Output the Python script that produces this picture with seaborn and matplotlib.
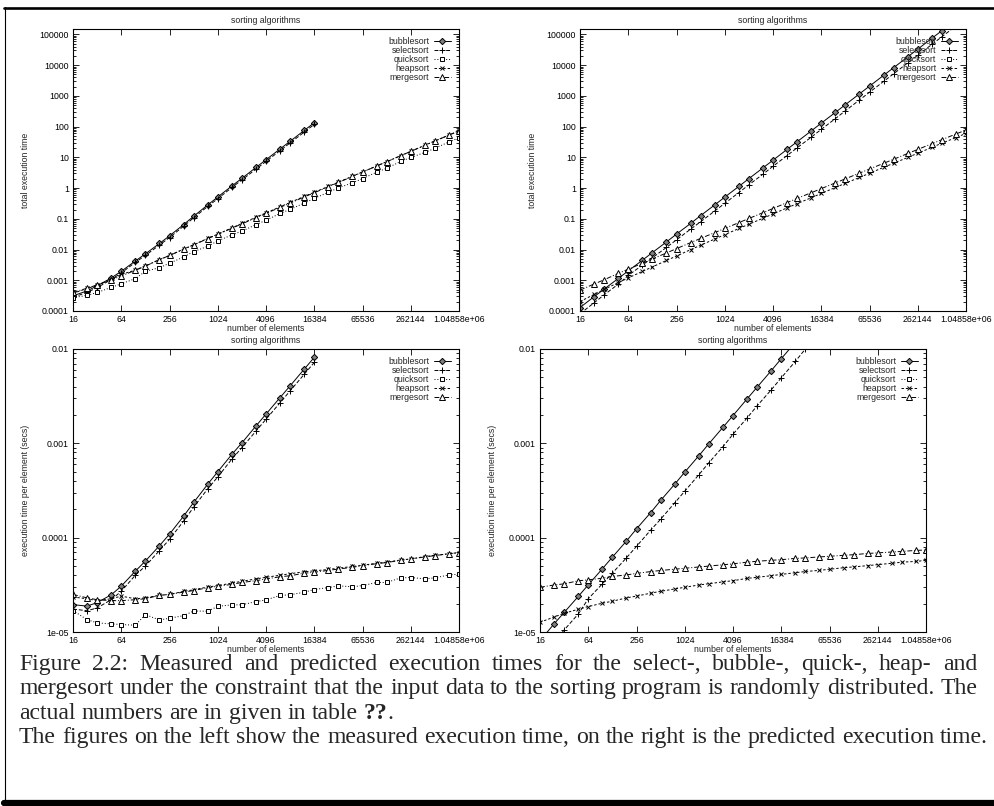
import matplotlib
matplotlib.use("Agg")
import matplotlib.pyplot as plt
import seaborn as sns
from matplotlib.lines import Line2D
from matplotlib.ticker import LogLocator, NullLocator, NullFormatter

# Data
n_elements = [16, 24, 32, 48, 64, 96, 128, 192, 256, 384, 512, 768, 1024, 1536,
              2048, 3072, 4096, 6144, 8192, 12288, 16384, 24576, 32768, 49152,
              65536, 98304, 131072, 196608, 262144, 393216, 524288, 786432, 1048576]

algorithms = ["bubblesort", "selectsort", "quicksort", "heapsort", "mergesort"]

# measured execution time per element (secs)
meas_bubblesort = [1.95e-5, 1.88e-5, 2.05e-5, 2.48e-5, 3.06e-5, 4.42e-5, 5.65e-5, 8.22e-5,
                   1.09e-4, 1.69e-4, 2.36e-4, 3.69e-4, 5.0e-4, 7.64e-4, 1.01e-3, 1.53e-3,
                   2.04e-3, 3.06e-3, 4.07e-3, 6.12e-3, 8.15e-3]
meas_selectsort = [1.75e-5, 1.68e-5, 1.8e-5, 2.2e-5, 2.7e-5, 4.0e-5, 5.0e-5, 7.3e-5,
                   9.6e-5, 1.5e-4, 2.1e-4, 3.3e-4, 4.4e-4, 6.8e-4, 9.0e-4, 1.35e-3,
                   1.8e-3, 2.7e-3, 3.6e-3, 5.4e-3, 7.2e-3]
meas_quicksort = [1.69e-5, 1.35e-5, 1.25e-5, 1.22e-5, 1.2e-5, 1.18e-5, 1.53e-5, 1.34e-5,
                  1.40e-5, 1.49e-5, 1.67e-5, 1.66e-5, 1.87e-5, 1.94e-5, 1.94e-5, 2.1e-5,
                  2.19e-5, 2.44e-5, 2.48e-5, 2.64e-5, 2.82e-5, 2.96e-5, 3.08e-5, 3.02e-5,
                  3.1e-5, 3.35e-5, 3.35e-5, 3.75e-5, 3.78e-5, 3.66e-5, 3.75e-5, 4.03e-5, 4.1e-5]
meas_heapsort = [2.35e-5, 2.25e-5, 2.15e-5, 2.25e-5, 2.4e-5, 2.25e-5, 2.3e-5, 2.45e-5,
                 2.5e-5, 2.7e-5, 2.8e-5, 3.0e-5, 3.1e-5, 3.3e-5, 3.45e-5, 3.65e-5,
                 3.8e-5, 4.0e-5, 4.15e-5, 4.35e-5, 4.45e-5, 4.6e-5, 4.75e-5, 4.95e-5,
                 5.1e-5, 5.35e-5, 5.5e-5, 5.8e-5, 5.95e-5, 6.3e-5, 6.5e-5, 6.75e-5, 6.95e-5]
meas_mergesort = [2.5e-5, 2.3e-5, 2.2e-5, 2.15e-5, 2.15e-5, 2.2e-5, 2.25e-5, 2.45e-5,
                  2.5e-5, 2.65e-5, 2.75e-5, 2.95e-5, 3.05e-5, 3.2e-5, 3.35e-5, 3.5e-5,
                  3.65e-5, 3.85e-5, 3.95e-5, 4.2e-5, 4.3e-5, 4.5e-5, 4.65e-5, 4.85e-5,
                  5.05e-5, 5.3e-5, 5.45e-5, 5.75e-5, 5.95e-5, 6.25e-5, 6.45e-5, 6.75e-5, 6.95e-5]

# predicted execution time per element (secs)
pred_bubblesort = [8.1e-6, 1.22e-5, 1.61e-5, 2.38e-5, 3.16e-5, 4.68e-5, 6.22e-5, 9.22e-5,
                   1.24e-4, 1.84e-4, 2.48e-4, 3.69e-4, 4.95e-4, 7.39e-4, 9.9e-4, 1.48e-3,
                   1.97e-3, 2.96e-3, 3.94e-3, 5.89e-3, 7.89e-3, 1.18e-2, 1.58e-2, 2.37e-2,
                   3.16e-2, 4.74e-2, 6.3e-2, 9.5e-2, 0.126, 0.19, 0.253, 0.38, 0.505]
pred_selectsort = [5.1e-6, 7.7e-6, 1.05e-5, 1.55e-5, 2.25e-5, 3.24e-5, 4.21e-5, 6.12e-5,
                   8.09e-5, 1.2e-4, 1.57e-4, 2.34e-4, 3.11e-4, 4.65e-4, 6.23e-4, 9.22e-4,
                   1.25e-3, 1.86e-3, 2.5e-3, 3.69e-3, 4.95e-3, 7.4e-3, 1.0e-2, 1.5e-2,
                   2.0e-2, 3.0e-2, 4.0e-2, 6.0e-2, 8.0e-2, 0.12, 0.16, 0.24, 0.32]
pred_quicksort = []
pred_heapsort = [1.27e-5, 1.44e-5, 1.58e-5, 1.74e-5, 1.86e-5, 2.02e-5, 2.12e-5, 2.3e-5,
                 2.4e-5, 2.58e-5, 2.7e-5, 2.86e-5, 2.98e-5, 3.15e-5, 3.25e-5, 3.4e-5,
                 3.5e-5, 3.7e-5, 3.8e-5, 3.95e-5, 4.08e-5, 4.25e-5, 4.38e-5, 4.5e-5,
                 4.63e-5, 4.8e-5, 4.9e-5, 5.05e-5, 5.18e-5, 5.35e-5, 5.5e-5, 5.6e-5, 5.75e-5]
pred_mergesort = [2.98e-5, 3.15e-5, 3.24e-5, 3.49e-5, 3.57e-5, 3.72e-5, 3.88e-5, 4.03e-5,
                  4.18e-5, 4.37e-5, 4.49e-5, 4.63e-5, 4.74e-5, 4.89e-5, 5.0e-5, 5.16e-5,
                  5.28e-5, 5.5e-5, 5.62e-5, 5.76e-5, 5.84e-5, 6.03e-5, 6.1e-5, 6.25e-5,
                  6.35e-5, 6.5e-5, 6.6e-5, 6.8e-5, 6.9e-5, 7.05e-5, 7.15e-5, 7.33e-5, 7.4e-5]

measured = dict(zip(algorithms, [meas_bubblesort, meas_selectsort, meas_quicksort,
                                 meas_heapsort, meas_mergesort]))
predicted = dict(zip(algorithms, [pred_bubblesort, pred_selectsort, pred_quicksort,
                                  pred_heapsort, pred_mergesort]))

x_ticks = [16, 64, 256, 1024, 4096, 16384, 65536, 262144, 1048576]
x_ticklabels = ["16", "64", "256", "1024", "4096", "16384", "65536", "262144", "1.04858e+06"]
total_yticks = [1e-4, 1e-3, 1e-2, 1e-1, 1, 10, 100, 1000, 10000, 100000]
total_yticklabels = ["0.0001", "0.001", "0.01", "0.1", "1", "10", "100", "1000", "10000", "100000"]
elem_yticks = [1e-5, 1e-4, 1e-3, 1e-2]
elem_yticklabels = ["1e-05", "0.0001", "0.001", "0.01"]

caption = [
    ("Figure 2.2:  Measured and predicted execution times for the select-, bubble-, quick-, heap- and", True),
    ("mergesort under the constraint that the input data to the sorting program is randomly distributed. The", True),
    ("actual numbers are in given in table ??.", False),
    ("The figures on the left show the measured execution time, on the right is the predicted execution time.", False),
]

# line styles, gnuplot look
styles = {
    "bubblesort": dict(marker="D", ls="-", ms=3.2, mfc="0.5"),
    "selectsort": dict(marker="+", ls=(0, (4, 2)), ms=4.5, mfc="none"),
    "quicksort": dict(marker="s", ls=(0, (1, 2)), ms=3.4, mfc="white"),
    "heapsort": dict(marker="x", ls=(0, (2.5, 2)), ms=3.4, mfc="none"),
    "mergesort": dict(marker="^", ls=(0, (5, 2, 1, 2)), ms=3.8, mfc="white"),
}

sns.set_style("ticks")
plt.rcParams["font.family"] = ["Liberation Sans", "DejaVu Sans"]

W, H = 994, 806
fig = plt.figure(figsize=(W / 100, H / 100), dpi=100)
FS = 6.3


def add_axes(left, right, top, bottom):
    return fig.add_axes([left / W, 1 - bottom / H, (right - left) / W, (bottom - top) / H])


def draw_panel(ax, series, total, ylim, yticks, yticklabels, ylabel):
    ax.set_xscale("log", base=2)
    ax.set_yscale("log")
    for name in algorithms:
        vals = series[name]
        st = styles[name]
        if len(vals) == 0:
            ax.plot([], [], color="black", lw=0.7, mec="black", mew=0.7, label=name, **st)
            continue
        x = n_elements[:len(vals)]
        y = [v * n for v, n in zip(vals, x)] if total else vals
        sns.lineplot(x=x, y=y, ax=ax, color="black", lw=0.7, mec="black", mew=0.7,
                     label=name, **st)
    ax.set_xlim(16, 1048576)
    ax.set_ylim(*ylim)
    ax.set_xticks(x_ticks)
    ax.set_xticklabels(x_ticklabels)
    ax.xaxis.set_minor_locator(NullLocator())
    ax.set_yticks(yticks)
    ax.set_yticklabels(yticklabels)
    ax.yaxis.set_minor_locator(LogLocator(base=10, subs=range(2, 10), numticks=30))
    ax.yaxis.set_minor_formatter(NullFormatter())
    ax.tick_params(which="both", direction="in", top=True, right=True,
                   labelsize=FS, width=0.6, pad=3, colors="black")
    ax.tick_params(which="major", length=4)
    ax.tick_params(which="minor", length=2)
    for sp in ax.spines.values():
        sp.set_linewidth(0.8)
        sp.set_color("black")
    ax.set_title("sorting algorithms", fontsize=FS, pad=4)
    ax.set_xlabel("number of elements", fontsize=FS, labelpad=0)
    ax.set_ylabel(ylabel, fontsize=FS)
    ax.yaxis.set_label_coords(-0.112, 0.5)
    ax.legend(loc="upper right", markerfirst=False, frameon=False, fontsize=FS,
              handlelength=2.0, handletextpad=0.5, labelspacing=0.0,
              borderpad=0.3, borderaxespad=0.6, numpoints=1)


ax_tl = add_axes(73, 459, 29, 311)
ax_tr = add_axes(580, 966, 29, 311)
ax_bl = add_axes(73, 459, 349, 632)
ax_br = add_axes(540, 926, 349, 632)

draw_panel(ax_tl, measured, True, (1e-4, 1.5e5), total_yticks, total_yticklabels,
           "total execution time")
draw_panel(ax_tr, predicted, True, (1e-4, 1.5e5), total_yticks, total_yticklabels,
           "total execution time")
draw_panel(ax_bl, measured, False, (1e-5, 1e-2), elem_yticks, elem_yticklabels,
           "execution time per element (secs)")
draw_panel(ax_br, predicted, False, (1e-5, 1e-2), elem_yticks, elem_yticklabels,
           "execution time per element (secs)")

# caption, justified like the LaTeX page
renderer = fig.canvas.get_renderer()
cap_kw = dict(family=["Liberation Serif", "DejaVu Serif"], fontsize=17.1, va="baseline")
x_left, x_right = 19, 977
baseline = 670
for line, justify in caption:
    pieces = []
    for word in line.split(" "):
        if word == "":
            continue
        if "??" in word:
            head, tail = word.split("??")
            pieces.append([(head, "normal"), ("??", "bold"), (tail, "normal")])
        else:
            pieces.append([(word, "normal")])
    texts = []
    widths = []
    for parts in pieces:
        row = []
        wsum = 0
        for s, weight in parts:
            if s == "":
                continue
            t = fig.text(0, 1 - baseline / H, s, fontweight=weight, **cap_kw)
            w = t.get_window_extent(renderer).width
            row.append((t, w))
            wsum += w
        texts.append(row)
        widths.append(wsum)
    space = fig.text(0, 0, "a b", **cap_kw)
    sw = space.get_window_extent(renderer).width
    space.set_text("ab")
    sw -= space.get_window_extent(renderer).width
    space.remove()
    if justify:
        gap = (x_right - x_left - sum(widths)) / (len(widths) - 1)
    else:
        gap = sw
    x = x_left
    for row, w in zip(texts, widths):
        xx = x
        for t, tw in row:
            t.set_x(xx / W)
            xx += tw
        x += w + gap
    baseline += 24.3

# page frame
fig.add_artist(Line2D([4 / W, 1], [1 - 7.7 / H] * 2, lw=1.9, color="black"))
fig.add_artist(Line2D([4.5 / W] * 2, [1 - 7 / H, 1 - 802 / H], lw=0.8, color="black"))
fig.add_artist(Line2D([4 / W, 1], [1 - 803 / H] * 2, lw=4.5, color="black"))

fig.savefig("out.png", dpi=100, facecolor="white")
